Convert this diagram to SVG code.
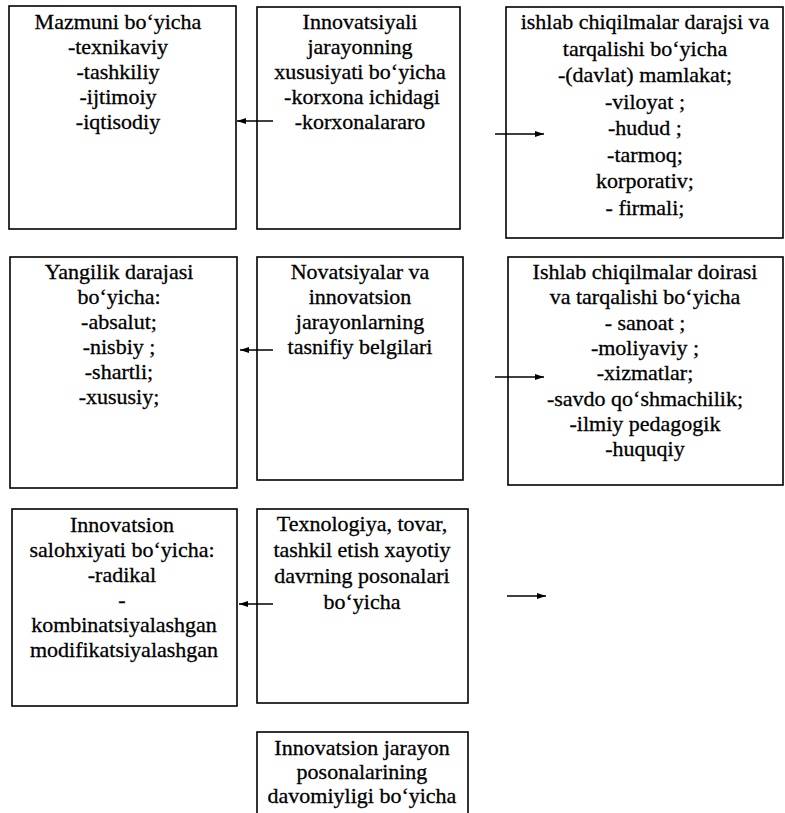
<svg xmlns="http://www.w3.org/2000/svg" width="785" height="813" viewBox="0 0 785 813">
<defs>
<style>
.box{fill:#fff;stroke:#000;stroke-width:1.6}
.t{font-size:22px;text-anchor:middle;fill:#000;stroke:#000;stroke-width:0.3}
.c{stroke:#000;stroke-width:1.4;fill:none}
</style>
<marker id="ah" markerUnits="userSpaceOnUse" markerWidth="10" markerHeight="8" refX="9" refY="4" orient="auto">
<path d="M0,1 L9,4 L0,7 Z" fill="#000"/>
</marker>
</defs>
<rect width="785" height="813" fill="#fff"/>
<g font-family="Liberation Serif, serif">
<g id="n1">
<rect class="box" x="9" y="6" width="227" height="223"/>
<text class="t"><tspan x="118" y="29">Mazmuni bo‘yicha</tspan><tspan x="118" y="54">-texnikaviy</tspan><tspan x="118" y="79">-tashkiliy</tspan><tspan x="118" y="104">-ijtimoiy</tspan><tspan x="118" y="129">-iqtisodiy</tspan></text>
</g>
<g id="n2">
<rect class="box" x="257" y="7" width="203" height="222"/>
<text class="t"><tspan x="360" y="29">Innovatsiyali</tspan><tspan x="360" y="54">jarayonning</tspan><tspan x="360" y="79">xususiyati bo‘yicha</tspan><tspan x="362" y="104">-korxona ichidagi</tspan><tspan x="360" y="129">-korxonalararo</tspan></text>
</g>
<g id="n3">
<rect class="box" x="506" y="7" width="277" height="231"/>
<text class="t"><tspan x="645" y="29">ishlab chiqilmalar darajsi va</tspan><tspan x="645" y="55.5">tarqalishi bo‘yicha</tspan><tspan x="645" y="82">-(davlat) mamlakat;</tspan><tspan x="645" y="108.5">-viloyat ;</tspan><tspan x="645" y="135">-hudud ;</tspan><tspan x="645" y="161.5">-tarmoq;</tspan><tspan x="645" y="188">korporativ;</tspan><tspan x="645" y="214.5">- firmali;</tspan></text>
</g>
<g id="n4">
<rect class="box" x="10" y="257" width="227" height="231"/>
<text class="t"><tspan x="119" y="279">Yangilik darajasi</tspan><tspan x="119" y="304">bo‘yicha:</tspan><tspan x="119" y="329">-absalut;</tspan><tspan x="119" y="354">-nisbiy ;</tspan><tspan x="119" y="379">-shartli;</tspan><tspan x="119" y="404">-xususiy;</tspan></text>
</g>
<g id="n5">
<rect class="box" x="257" y="257" width="206" height="223"/>
<text class="t"><tspan x="360" y="279">Novatsiyalar va</tspan><tspan x="360" y="304">innovatsion</tspan><tspan x="360" y="329">jarayonlarning</tspan><tspan x="360" y="354">tasnifiy belgilari</tspan></text>
</g>
<g id="n6">
<rect class="box" x="508" y="257" width="275" height="228"/>
<text class="t"><tspan x="645" y="279">Ishlab chiqilmalar doirasi</tspan><tspan x="645" y="304.3">va tarqalishi bo‘yicha</tspan><tspan x="645" y="329.6">- sanoat ;</tspan><tspan x="645" y="354.9">-moliyaviy ;</tspan><tspan x="645" y="380.2">-xizmatlar;</tspan><tspan x="645" y="405.5">-savdo qo‘shmachilik;</tspan><tspan x="645" y="430.8">-ilmiy pedagogik</tspan><tspan x="645" y="456.1">-huquqiy</tspan></text>
</g>
<g id="n7">
<rect class="box" x="12" y="509" width="225" height="197"/>
<text class="t"><tspan x="122" y="532">Innovatsion</tspan><tspan x="122" y="557">salohxiyati bo‘yicha:</tspan><tspan x="122" y="582">-radikal</tspan><tspan x="122" y="607">-</tspan><tspan x="124" y="632">kombinatsiyalashgan</tspan><tspan x="124" y="657">modifikatsiyalashgan</tspan></text>
</g>
<g id="n8">
<rect class="box" x="257" y="509" width="211" height="194"/>
<text class="t"><tspan x="362" y="531">Texnologiya, tovar,</tspan><tspan x="362" y="557">tashkil etish xayotiy</tspan><tspan x="362" y="583">davrning posonalari</tspan><tspan x="362" y="609">bo‘yicha</tspan></text>
</g>
<g id="n9">
<rect class="box" x="257" y="732" width="211" height="100"/>
<text class="t"><tspan x="362" y="755">Innovatsion jarayon</tspan><tspan x="362" y="779">posonalarining</tspan><tspan x="362" y="803">davomiyligi bo‘yicha</tspan></text>
</g>
</g>
<g id="connectors">
<line class="c" x1="273" y1="121" x2="237" y2="121" marker-end="url(#ah)"/>
<line class="c" x1="495" y1="134" x2="544" y2="134" marker-end="url(#ah)"/>
<line class="c" x1="273" y1="350" x2="240" y2="350" marker-end="url(#ah)"/>
<line class="c" x1="495" y1="377" x2="544" y2="377" marker-end="url(#ah)"/>
<line class="c" x1="273" y1="604" x2="239" y2="604" marker-end="url(#ah)"/>
<line class="c" x1="507" y1="596" x2="546" y2="596" marker-end="url(#ah)"/>
</g>
</svg>
